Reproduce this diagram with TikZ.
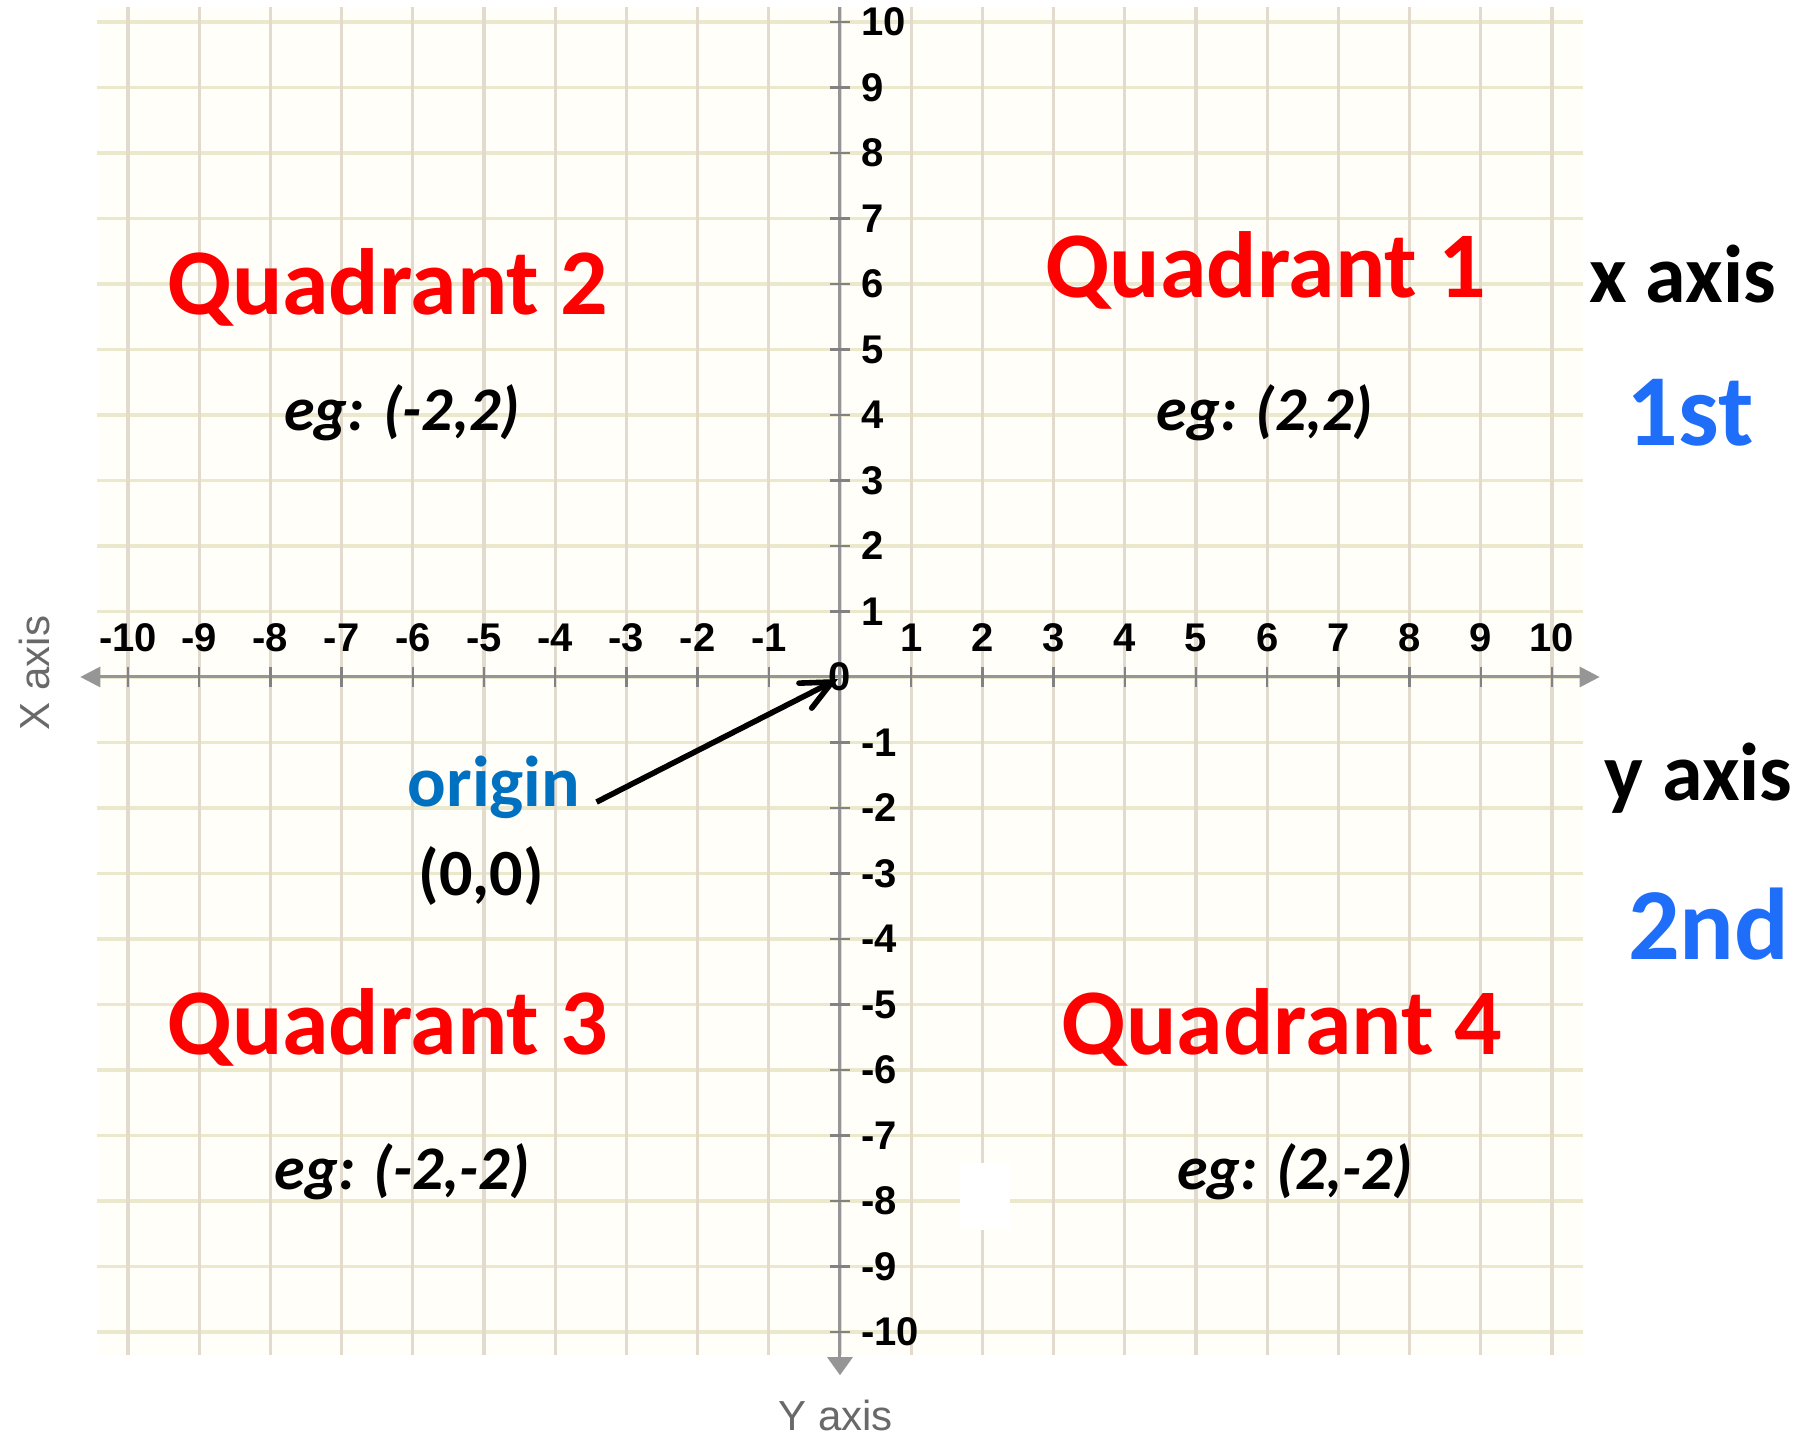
\documentclass[tikz,border=0pt]{standalone}
\usepackage{fontspec}
\usepackage{xcolor}
\usepackage{tikz}
\usetikzlibrary{arrows.meta,positioning}
\newfontfamily\carlito{Carlito}
\newfontfamily\arialish{Liberation Sans}
\definecolor{gridtan}  {RGB}{226,218,204}
\definecolor{gridcream}{RGB}{236,232,204}
\definecolor{paper}    {RGB}{255,254,248}
\definecolor{axisgray} {RGB}{150,150,150}
\definecolor{tickgray} {RGB}{130,130,130}
\definecolor{namegray} {RGB}{105,105,105}
\definecolor{quadred}  {RGB}{255,0,0}
\definecolor{ordblue}  {RGB}{30,110,250}
\definecolor{origblue} {RGB}{0,112,192}
\tikzset{
  gridv/.style   ={draw=gridtan, line width=1.6pt},
  gridh/.style   ={draw=gridcream, line width=1.6pt},
  axisline/.style={draw=axisgray, line width=1.5pt},
  tickmark/.style={draw=tickgray, line width=1.2pt},
  ticklbl/.style ={inner sep=0pt, font=\arialish\bfseries\fontsize{20}{24}\selectfont},
  quadlbl/.style ={anchor=base, inner sep=0pt, text=quadred,
                   font=\carlito\bfseries\fontsize{47}{56}\selectfont},
  eglbl/.style   ={anchor=base, inner sep=0pt,
                   font=\carlito\bfseries\itshape\fontsize{31}{37}\selectfont},
  sidelbl/.style ={anchor=base, inner sep=0pt,
                   font=\carlito\bfseries\fontsize{41}{49}\selectfont},
  ordlbl/.style  ={anchor=base, inner sep=0pt, text=ordblue,
                   font=\carlito\bfseries\fontsize{51}{61}\selectfont},
  axisname/.style={inner sep=0pt, text=namegray,
                   font=\arialish\fontsize{21}{25}\selectfont},
  ptr/.style     ={-{Straight Barb[length=15pt,width=14pt,line cap=round]},
                   line width=2.8pt},
}

\begin{document}
\begin{tikzpicture}[x=35.6pt,y=32.75pt]
  \useasboundingbox (-11.798,-11.649) rectangle (13.638,10.336);
  \fill[white] (-11.798,-11.649) rectangle (13.638,10.336);
  \fill[paper] (-10.44,-10.35) rectangle (10.44,10.23);
  % grid
  \foreach \j in {-10,...,10}
    \draw[gridh] (-10.44,\j) -- (10.44,\j);
  \foreach \i in {-10,...,10}
    \draw[gridv] (\i,10.23) -- (\i,-10.35);
  \fill[white] (1.685,-7.42) rectangle (2.39,-8.44);
  % axes
  \coordinate (o) at (0,0);
  \draw[axisline, {Triangle[length=10pt,width=10pt]}-{Triangle[length=10pt,width=10pt]}]
    (-10.67,0) -- (10.67,0);
  \draw[axisline, -{Triangle[length=9pt,width=12.5pt]}] (0,10.23) -- (0,-10.66);
  \foreach \i in {-10,...,-1,1,2,...,10} {
    \draw[tickmark] ([yshift=5pt]\i,0) -- ([yshift=-5pt]\i,0);
    \draw[tickmark] ([xshift=-5pt]0,\i) -- ([xshift=5pt]0,\i);
    \node[ticklbl, anchor=south, above=12.5pt] (xt\i) at (\i,0) {\i};
    \node[ticklbl, anchor=west, right=10.5pt] (yt\i) at (0,\i) {\i};
  }
  \node[ticklbl] (zero) at (o) {0};
  \node[axisname, rotate=90] (xname) at (-11.31,0.06) {X axis};
  \node[axisname] (yname) at (-0.06,-11.27) {Y axis};
  % quadrant labels
  \node[quadlbl] (q1) at (5.98,5.79)  {Quadrant 1};
  \node[quadlbl] (q2) at (-6.35,5.54) {Quadrant 2};
  \node[quadlbl] (q3) at (-6.35,-5.76) {Quadrant 3};
  \node[quadlbl] (q4) at (6.21,-5.76) {Quadrant 4};
  \node[eglbl] (eg1) at (5.97,3.76)   {eg: (2,2)};
  \node[eglbl] (eg2) at (-6.15,3.76)  {eg: (-2,2)};
  \node[eglbl] (eg3) at (-6.15,-7.83) {eg: (-2,-2)};
  \node[eglbl] (eg4) at (6.39,-7.83)  {eg: (2,-2)};
  % side notes
  \node[sidelbl] (xaxis) at (11.84,5.71) {x axis};
  \node[ordlbl]  (first) at (11.94,3.54) {1st};
  \node[sidelbl] (yaxis) at (12.06,-1.88) {y axis};
  \node[ordlbl]  (second) at (12.2,-4.31) {2nd};
  % origin pointer
  \node[sidelbl, text=origblue, font=\carlito\bfseries\fontsize{36}{43}\selectfont]
    (orig) at (-4.86,-1.97) {origin};
  \node[sidelbl, font=\carlito\bfseries\fontsize{33}{40}\selectfont]
    (origxy) at (-5.04,-3.33) {(0,0)};
  \draw[ptr] ([xshift=8pt,yshift=2pt]orig.base east) -- ([xshift=-1pt,yshift=-1pt]o);
\end{tikzpicture}
\end{document}
